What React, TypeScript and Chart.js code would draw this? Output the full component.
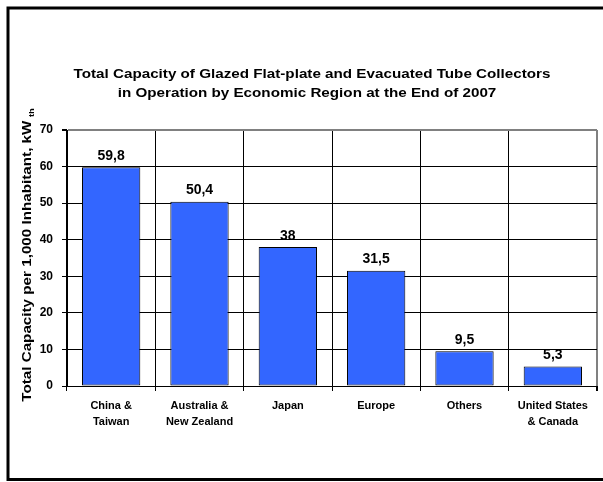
import React, { useEffect, useRef } from "react";
import { Chart, registerables } from "chart.js";

Chart.register(...registerables);

const categories: (string | string[])[] = [
  ["China &", "Taiwan"],
  ["Australia &", "New Zealand"],
  "Japan",
  "Europe",
  "Others",
  ["United States", "& Canada"],
];
const capacity: number[] = [59.8, 50.4, 38, 31.5, 9.5, 5.3];
const valueLabels: string[] = ["59,8", "50,4", "38", "31,5", "9,5", "5,3"];
const titleLines: string[] = [
  "Total Capacity of Glazed Flat-plate and Evacuated Tube Collectors",
  "in Operation by Economic Region at the End of 2007",
];
const yTitleMain = "Total Capacity per 1,000 Inhabitant, kW";
const yTitleSub = "th";

const FONT = "'Liberation Sans', Arial, Helvetica, sans-serif";
const STRETCH = 1.17;

const decorPlugin = {
  id: "decor",
  beforeDraw(chart: any) {
    const ctx = chart.ctx;
    ctx.save();
    ctx.fillStyle = "#ffffff";
    ctx.fillRect(0, 0, chart.width, chart.height);
    ctx.strokeStyle = "#000000";
    ctx.lineWidth = 3;
    ctx.strokeRect(8, 8, 800, 471.5);
    ctx.restore();
  },
  afterDraw(chart: any) {
    const ctx = chart.ctx;
    ctx.save();
    // title (slightly widened glyphs like the reference)
    ctx.fillStyle = "#000000";
    ctx.font = `bold 13px ${FONT}`;
    ctx.textAlign = "center";
    ctx.textBaseline = "middle";
    ctx.save();
    ctx.translate(312, 74);
    ctx.scale(STRETCH, 1);
    ctx.fillText(titleLines[0], 0, 0);
    ctx.restore();
    ctx.save();
    ctx.translate(307, 93);
    ctx.scale(STRETCH, 1);
    ctx.fillText(titleLines[1], 0, 0);
    ctx.restore();

    // y axis title with subscript
    ctx.save();
    ctx.translate(27, 255);
    ctx.rotate(-Math.PI / 2);
    ctx.scale(STRETCH, 1);
    ctx.font = `bold 13px ${FONT}`;
    const wMain = ctx.measureText(yTitleMain).width;
    ctx.font = `bold 8px ${FONT}`;
    const wSub = ctx.measureText(yTitleSub).width;
    const total = wMain + 3 + wSub;
    ctx.textAlign = "left";
    ctx.textBaseline = "middle";
    ctx.font = `bold 13px ${FONT}`;
    ctx.fillText(yTitleMain, -total / 2, 0);
    ctx.font = `bold 8px ${FONT}`;
    ctx.fillText(yTitleSub, -total / 2 + wMain + 3, 5);
    ctx.restore();

    // value labels
    const meta = chart.getDatasetMeta(0);
    ctx.font = `bold 14px ${FONT}`;
    ctx.textAlign = "center";
    ctx.textBaseline = "alphabetic";
    meta.data.forEach((bar: any, i: number) => {
      ctx.fillText(valueLabels[i], bar.x, bar.y - 7.5);
    });
    ctx.restore();
  },
};

export default function App() {
  const ref = useRef<HTMLCanvasElement>(null);
  useEffect(() => {
    if (!ref.current) return;
    const chart = new Chart(ref.current, {
      type: "bar",
      data: {
        labels: categories,
        datasets: [
          {
            data: capacity,
            backgroundColor: "#3366FF",
            borderColor: "#000000",
            borderWidth: 1,
            borderSkipped: false,
            categoryPercentage: 1,
            barPercentage: 0.66,
          },
        ],
      },
      options: {
        responsive: false,
        animation: false,
        devicePixelRatio: 1,
        layout: { padding: { left: 0, top: 130, right: 6, bottom: 0 } },
        plugins: {
          legend: { display: false },
          title: { display: false },
          tooltip: { enabled: false },
        },
        scales: {
          x: {
            afterFit: (s: any) => {
              s.height = 96;
            },
            grid: {
              offset: true,
              color: (c: any) => (c.tick ? "#000000" : "#808080"),
              lineWidth: (c: any) => (c.tick ? 1 : 2),
              tickColor: "#000000",
              tickLength: 5,
            },
            border: { color: "#000000", width: 1 },
            ticks: {
              color: "#000000",
              padding: 7,
              maxRotation: 0,
              autoSkip: false,
              font: { family: FONT, size: 11, weight: "bold", lineHeight: 1.45 },
            },
          },
          y: {
            min: 0,
            max: 70,
            afterFit: (s: any) => {
              s.width = 67;
            },
            grid: {
              color: (c: any) => (c.tick && c.tick.value === 70 ? "#808080" : "#000000"),
              lineWidth: (c: any) => (c.tick && c.tick.value === 70 ? 2 : 1),
              tickColor: "#000000",
              tickLength: 5,
            },
            border: { color: "#000000", width: 1 },
            ticks: {
              stepSize: 10,
              color: "#000000",
              padding: 9,
              font: { family: FONT, size: 12, weight: "bold" },
            },
          },
        },
      },
      plugins: [decorPlugin],
    } as any);
    return () => chart.destroy();
  }, []);
  return (
    <div style={{ position: "absolute", left: 0, top: 0, width: 603, height: 482 }}>
      <canvas ref={ref} width={603} height={482} style={{ display: "block", width: 603, height: 482 }} />
    </div>
  );
}
